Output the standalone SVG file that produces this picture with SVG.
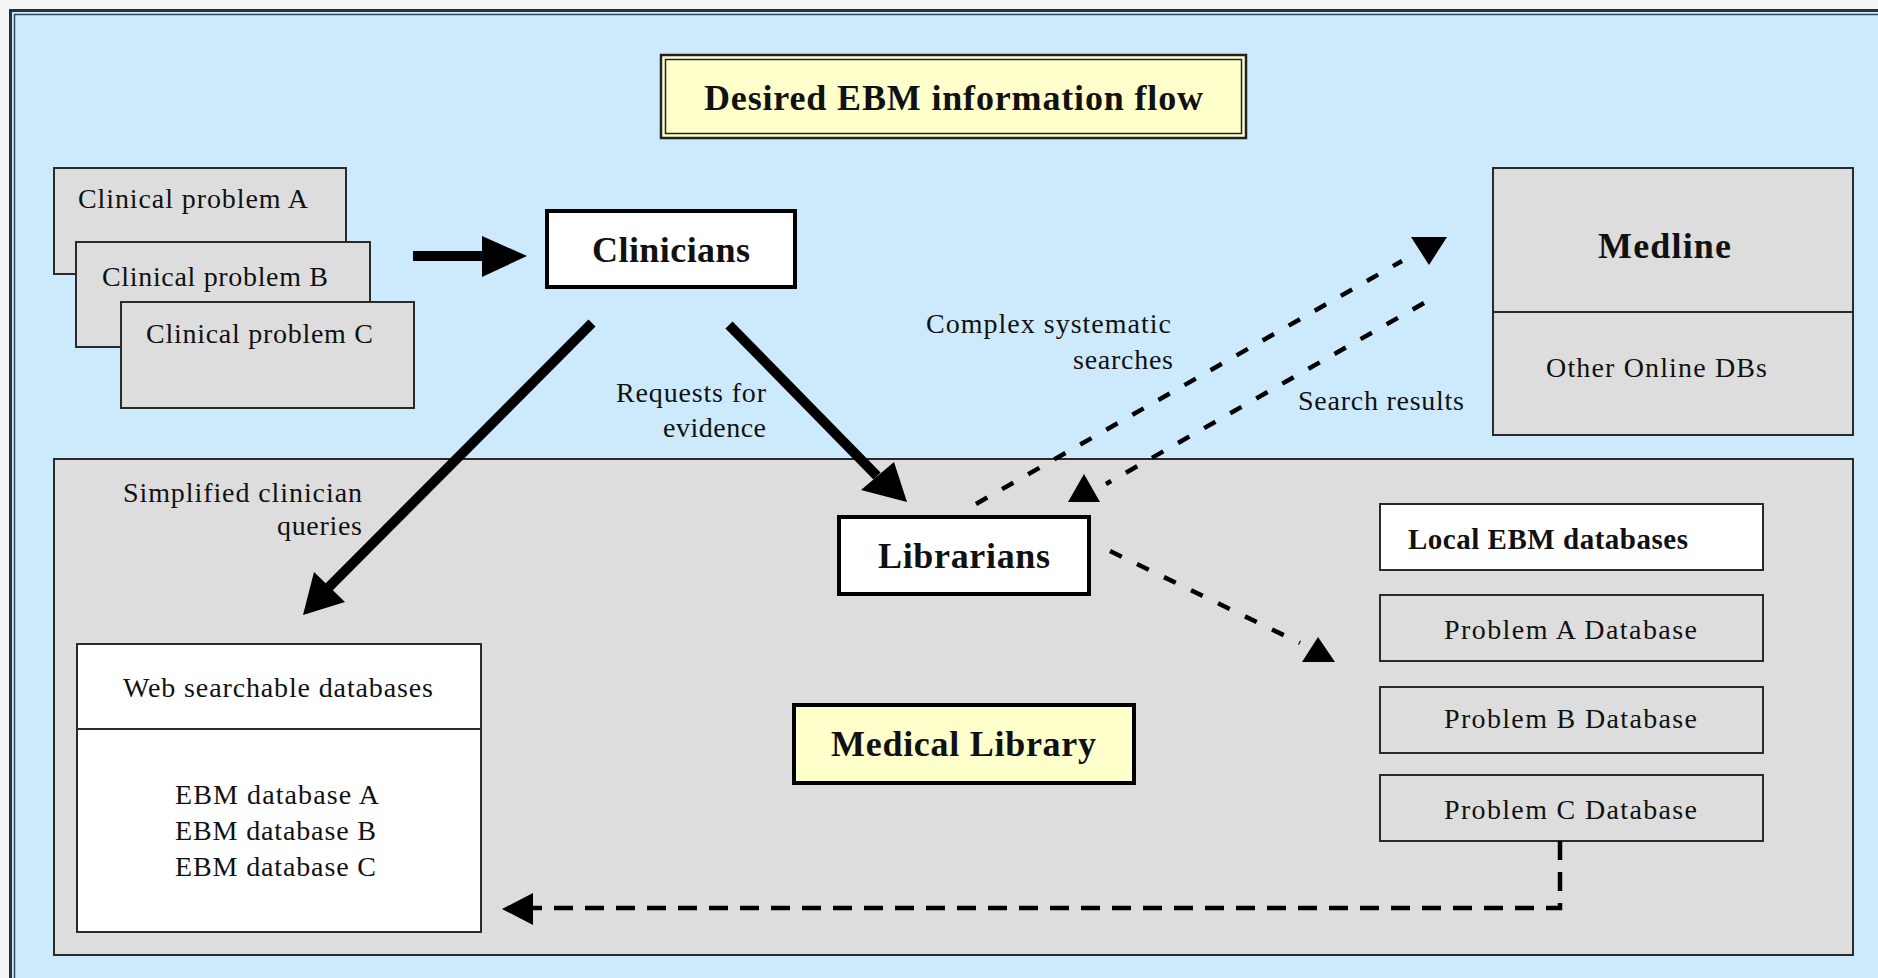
<svg xmlns="http://www.w3.org/2000/svg" width="1878" height="978" viewBox="0 0 1878 978">
<defs>
<style>
.t{font-family:"Liberation Serif","Times New Roman",serif;font-size:28px;fill:#111}
.b{font-family:"Liberation Serif","Times New Roman",serif;font-size:36px;font-weight:bold;fill:#111}
.grey{fill:#dddddd;stroke:#2a2a2a;stroke-width:2}
.white{fill:#ffffff;stroke:#2a2a2a;stroke-width:2}
.bold{fill:#ffffff;stroke:#000;stroke-width:4}
.yel{fill:#ffffcc;stroke:#000;stroke-width:4}
.thick{stroke:#000;stroke-width:10;fill:none}
.dash{stroke:#000;stroke-width:4.5;fill:none;stroke-dasharray:13 17}
.dash2{stroke:#000;stroke-width:4.5;fill:none;stroke-dasharray:19 12}
.head{fill:#000}
</style>
</defs>
<rect x="0" y="0" width="1878" height="978" fill="#f2f4f6"/>
<g id="frame">
<rect x="10.5" y="10.5" width="1900" height="1000" fill="#cdeafc" stroke="#26303c" stroke-width="3"/>
<rect x="14.5" y="14.5" width="1900" height="1000" fill="none" stroke="#3a4654" stroke-width="1.5"/>
</g>
<g id="title">
<rect x="661" y="55" width="585" height="83" fill="#ffffcc" stroke="#222" stroke-width="2.5"/>
<rect x="665.5" y="59.5" width="576" height="74" fill="none" stroke="#222" stroke-width="1.5"/>
<text class="b" x="704" y="110" textLength="499">Desired EBM information flow</text>
</g>
<g id="medical-library">
<rect class="grey" x="54" y="459" width="1799" height="496"/>
</g>
<g id="problem-a">
<rect class="grey" x="54" y="168" width="292" height="106"/>
<text class="t" x="78" y="208" textLength="230">Clinical problem A</text>
</g>
<g id="problem-b">
<rect class="grey" x="76" y="242" width="294" height="105"/>
<text class="t" x="102" y="286" textLength="226">Clinical problem B</text>
</g>
<g id="problem-c">
<rect class="grey" x="121" y="302" width="293" height="106"/>
<text class="t" x="146" y="343" textLength="227">Clinical problem C</text>
</g>
<g id="clinicians">
<rect class="bold" x="547" y="211" width="248" height="76"/>
<text class="b" x="592" y="262" textLength="158">Clinicians</text>
</g>
<g id="medline">
<rect class="grey" x="1493" y="168" width="360" height="267"/>
<line x1="1493" y1="312" x2="1853" y2="312" stroke="#2a2a2a" stroke-width="2"/>
<text class="b" x="1598" y="258" textLength="133">Medline</text>
<text class="t" x="1546" y="377" textLength="221">Other Online DBs</text>
</g>
<g id="librarians">
<rect class="bold" x="839" y="517" width="250" height="77"/>
<text class="b" x="878" y="568" textLength="172">Librarians</text>
</g>
<g id="medical-library-label">
<rect class="yel" x="794" y="705" width="340" height="78"/>
<text class="b" x="831" y="756" textLength="265">Medical Library</text>
</g>
<g id="web-databases">
<rect class="white" x="77" y="644" width="404" height="288"/>
<line x1="77" y1="729" x2="481" y2="729" stroke="#2a2a2a" stroke-width="2"/>
<text class="t" x="123" y="697" textLength="310">Web searchable databases</text>
<text class="t" x="175" y="804" textLength="204">EBM database A</text>
<text class="t" x="175" y="840" textLength="201">EBM database B</text>
<text class="t" x="175" y="876" textLength="201">EBM database C</text>
</g>
<g id="local-ebm">
<rect class="white" x="1380" y="504" width="383" height="66"/>
<text class="b" x="1408" y="549" style="font-size:29px" textLength="280">Local EBM databases</text>
</g>
<g id="problem-a-db">
<rect class="grey" x="1380" y="595" width="383" height="66"/>
<text class="t" x="1444" y="639" textLength="253">Problem A  Database</text>
</g>
<g id="problem-b-db">
<rect class="grey" x="1380" y="687" width="383" height="66"/>
<text class="t" x="1444" y="728" textLength="253">Problem B  Database</text>
</g>
<g id="problem-c-db">
<rect class="grey" x="1380" y="775" width="383" height="66"/>
<text class="t" x="1444" y="819" textLength="253">Problem C  Database</text>
</g>
<g id="connectors">
<line class="thick" x1="413" y1="256" x2="484" y2="256"/>
<polygon class="head" points="482,236 527,256 482,277"/>
<line class="thick" x1="592" y1="323" x2="329" y2="587"/>
<polygon class="head" points="303,615 314,572 345,602"/>
<line class="thick" x1="729" y1="325" x2="877" y2="476"/>
<polygon class="head" points="907,502 861,490 894,462"/>
<line class="dash" x1="976" y1="504" x2="1402" y2="261"/>
<polygon class="head" points="1411,237 1447,237 1429,265"/>
<line class="dash" x1="1424" y1="303" x2="1106" y2="484"/>
<polygon class="head" points="1068,502 1084,474 1100,502"/>
<line class="dash" x1="1110" y1="551" x2="1300" y2="643"/>
<polygon class="head" points="1302,662 1318,637 1335,662"/>
<polyline class="dash2" points="1560,841 1560,908 533,908"/>
<polygon class="head" points="502,909 533,893 533,925"/>
</g>
<g id="labels">
<text class="t" x="926" y="333" textLength="245">Complex systematic</text>
<text class="t" x="1073" y="369" textLength="100">searches</text>
<text class="t" x="616" y="402" textLength="150">Requests for</text>
<text class="t" x="663" y="437" textLength="103">evidence</text>
<text class="t" x="1298" y="410" textLength="166">Search results</text>
<text class="t" x="123" y="502" textLength="239">Simplified clinician</text>
<text class="t" x="277" y="535" textLength="85">queries</text>
</g>
</svg>
